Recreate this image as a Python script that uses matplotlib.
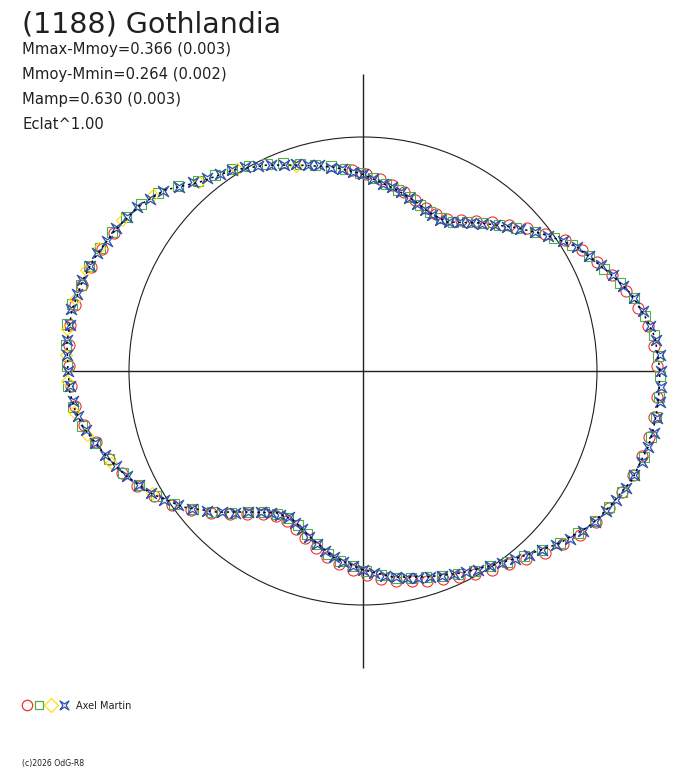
import numpy as np
import matplotlib.pyplot as plt
from matplotlib.patches import Circle

plt.rcParams['font.family'] = ['DejaVu Sans']

# fitted light curve, phase in degrees, radius = relative flux (mean = 1)
curve_ang = [0, 2.7, 6.6, 10.2, 13.5, 16.3, 18.9, 21.6, 24.8, 28, 30.1, 33.6, 37.9, 43.8, 51.7,
             60.6, 67, 73.7, 79.4, 84.9, 90.9, 98.4, 107, 115, 122.9, 130.8, 137.6, 143.3, 150.4,
             157.6, 162, 168.2, 174.6, 179.8, 184.3, 187.7, 191.3, 194.3, 198.6, 203.6, 209.8,
             217.1, 224, 231.3, 238.8, 244.8, 252.3, 260.8, 270, 278.3, 287.3, 295.6, 303.8,
             311.7, 318.9, 321.3, 324.1, 326.5, 329.4, 332.2, 335.4, 337.9, 341.6, 345.1, 348.5,
             352.4, 355.7, 360]
curve_r = [1.269, 1.262, 1.256, 1.233, 1.209, 1.189, 1.161, 1.135, 1.101, 1.074, 1.057, 1.011,
           0.959, 0.888, 0.806, 0.731, 0.733, 0.762, 0.787, 0.811, 0.846, 0.881, 0.920, 0.971,
           1.023, 1.067, 1.147, 1.188, 1.219, 1.247, 1.258, 1.271, 1.271, 1.261, 1.256, 1.242,
           1.220, 1.191, 1.154, 1.110, 1.049, 0.964, 0.868, 0.772, 0.709, 0.703, 0.745, 0.805,
           0.850, 0.890, 0.922, 0.958, 0.998, 1.053, 1.118, 1.134, 1.160, 1.178, 1.192, 1.208,
           1.222, 1.240, 1.247, 1.261, 1.265, 1.268, 1.268, 1.269]

red_ang = [1, 5, 9, 13, 17, 21, 25, 29, 33, 37, 41, 45, 49, 53, 57, 61, 65, 69, 73, 77, 81, 85,
           89, 93, 151, 155, 159, 163, 167, 171, 175, 179, 183, 187, 191, 195, 199, 203, 207, 211,
           215, 219, 223, 227, 231, 235, 239, 243, 247, 251, 255, 259, 263, 267, 271, 275, 279,
           283, 287, 291, 295, 299, 303, 307, 311, 315, 319, 323, 327, 331, 335, 339, 343, 347,
           351, 355]
red_r = [1.255, 1.250, 1.232, 1.206, 1.175, 1.140, 1.105, 1.070, 1.028, 0.975, 0.930, 0.884,
         0.842, 0.803, 0.770, 0.742, 0.740, 0.748, 0.766, 0.785, 0.803, 0.822, 0.843, 0.862,
         1.215, 1.232, 1.245, 1.255, 1.262, 1.266, 1.262, 1.255, 1.250, 1.238, 1.214, 1.180,
         1.150, 1.118, 1.082, 1.040, 0.995, 0.945, 0.890, 0.835, 0.785, 0.745, 0.725, 0.718,
         0.735, 0.755, 0.782, 0.810, 0.832, 0.852, 0.872, 0.892, 0.907, 0.922, 0.937, 0.952,
         0.972, 0.990, 1.012, 1.035, 1.063, 1.098, 1.130, 1.162, 1.185, 1.204, 1.220, 1.235,
         1.248, 1.256, 1.258, 1.260]

green_ang = [3, 7, 11, 15, 19, 23, 27, 31, 35, 39, 43, 47, 51, 55, 59, 63, 67, 71, 75, 79, 83,
             87, 91, 95, 99, 103, 107, 111, 115, 119, 123, 127, 131, 135, 139, 143, 147, 151,
             155, 159, 163, 167, 171, 175, 179, 183, 187, 191, 195, 199, 203, 207, 211, 215,
             219, 223, 227, 231, 235, 239, 243, 247, 251, 255, 259, 263, 267, 271, 275, 279,
             283, 287, 291, 295, 299, 303, 307, 311, 315, 319, 323, 327, 331, 335, 339, 343,
             347, 351, 355, 359]
green_r = [1.264, 1.252, 1.228, 1.200, 1.160, 1.120, 1.083, 1.042, 0.994, 0.946, 0.896, 0.855,
           0.812, 0.776, 0.745, 0.733, 0.737, 0.750, 0.768, 0.786, 0.803, 0.825, 0.848, 0.868,
           0.886, 0.905, 0.925, 0.950, 0.975, 1.003, 1.028, 1.050, 1.078, 1.118, 1.158, 1.186,
           1.210, 1.228, 1.240, 1.255, 1.262, 1.275, 1.280, 1.272, 1.265, 1.262, 1.248, 1.222,
           1.186, 1.150, 1.112, 1.075, 1.034, 0.988, 0.937, 0.882, 0.828, 0.778, 0.737, 0.712,
           0.705, 0.716, 0.738, 0.765, 0.795, 0.818, 0.836, 0.855, 0.876, 0.894, 0.907, 0.922,
           0.940, 0.957, 0.976, 0.995, 1.021, 1.050, 1.083, 1.118, 1.152, 1.180, 1.203, 1.222,
           1.240, 1.254, 1.263, 1.267, 1.268, 1.268]

yellow_ang = [108, 122, 131, 140, 148, 155, 160, 166, 172, 177, 182, 188, 193, 200, 210]
yellow_r = [0.922, 1.016, 1.070, 1.170, 1.215, 1.245, 1.258, 1.270, 1.278, 1.272, 1.266, 1.248,
            1.210, 1.145, 1.040]

blue_ang = list(range(0, 360, 3))
blue_r = [1.275, 1.270, 1.258, 1.240, 1.225, 1.200, 1.170, 1.143, 1.112, 1.085, 1.058, 1.018,
          0.978, 0.945, 0.905, 0.872, 0.842, 0.810, 0.782, 0.758, 0.735, 0.725, 0.728, 0.738,
          0.750, 0.765, 0.782, 0.796, 0.805, 0.822, 0.840, 0.853, 0.867, 0.880, 0.898, 0.912,
          0.928, 0.944, 0.965, 0.985, 1.005, 1.025, 1.040, 1.062, 1.085, 1.115, 1.150, 1.170,
          1.192, 1.205, 1.218, 1.228, 1.245, 1.250, 1.262, 1.265, 1.275, 1.268, 1.272, 1.266,
          1.262, 1.255, 1.245, 1.232, 1.212, 1.185, 1.158, 1.130, 1.105, 1.075, 1.045, 1.012,
          0.975, 0.938, 0.895, 0.853, 0.815, 0.778, 0.745, 0.722, 0.710, 0.700, 0.710, 0.725,
          0.745, 0.765, 0.788, 0.805, 0.822, 0.835, 0.852, 0.865, 0.882, 0.893, 0.905, 0.914,
          0.925, 0.937, 0.951, 0.965, 0.980, 0.995, 1.014, 1.035, 1.058, 1.082, 1.112, 1.138,
          1.162, 1.183, 1.198, 1.215, 1.228, 1.242, 1.252, 1.262, 1.270, 1.274, 1.275, 1.276]

title = '(1188) Gothlandia'
info = ['Mmax-Mmoy=0.366 (0.003)', 'Mmoy-Mmin=0.264 (0.002)', 'Mamp=0.630 (0.003)', 'Eclat^1.00']
observer = 'Axel Martin'
credit = '(c)2026 OdG-R8'


def xy(ang, r):
    a = np.radians(np.asarray(ang, dtype=float))
    r = np.asarray(r, dtype=float)
    return r * np.cos(a), r * np.sin(a)


# blue symbol: square with deeply pinched sides
star = [(-1, -1), (0, -0.35), (1, -1), (0.35, 0), (1, 1), (0, 0.35), (-1, 1), (-0.35, 0), (-1, -1)]

RED, GREEN, YELLOW, BLUE = '#f03030', '#50b040', '#ffe000', '#3050b0'

W, H = 688, 768
cx, cy, scale = 363, 371, 234  # centre and unit radius in pixels
fig = plt.figure(figsize=(W / 100, H / 100), dpi=100)
ax = fig.add_axes([0, 0, 1, 1])
ax.set_xlim(-cx / scale, (W - cx) / scale)
ax.set_ylim(-(H - cy) / scale, cy / scale)
ax.axis('off')

ax.add_patch(Circle((0, 0), 1.0, fill=False, ec='#202020', lw=0.8, zorder=1))
ax.hlines(0, -1.25, 1.25, color='#202020', lw=1.0, zorder=1)
ax.vlines(0, -1.27, 1.27, color='#202020', lw=1.0, zorder=1)

x, y = xy(red_ang, red_r)
ax.plot(x, y, 'o', ms=8, mfc='none', mec=RED, mew=0.8, zorder=2)
x, y = xy(green_ang, green_r)
ax.plot(x, y, 's', ms=6.5, mfc='none', mec=GREEN, mew=0.8, zorder=3)
x, y = xy(yellow_ang, yellow_r)
ax.plot(x, y, 'D', ms=6, mfc='none', mec=YELLOW, mew=0.8, zorder=4)
x, y = xy(blue_ang, blue_r)
ax.plot(x, y, marker=star, ls='none', ms=7.5, mfc='none', mec=BLUE, mew=0.9, zorder=5)
x, y = xy(curve_ang, curve_r)
ax.plot(x, y, color='black', lw=1.1, ls=(0, (1.5, 2.5)), zorder=6)

fig.text(22 / W, 1 - 32 / H, title, fontsize=20.5, color='#202020', va='baseline')
for i, s in enumerate(info):
    fig.text(22 / W, 1 - (54 + 25 * i) / H, s, fontsize=10.6, color='#202020', va='baseline')

# legend row
lx = [27, 39, 51, 64]
ly = 705
inv = ax.transData.inverted()
ax.plot(*inv.transform((lx[0], H - ly)), 'o', ms=7.5, mfc='none', mec=RED, mew=0.9, clip_on=False)
ax.plot(*inv.transform((lx[1], H - ly)), 's', ms=6, mfc='none', mec=GREEN, mew=0.9, clip_on=False)
ax.plot(*inv.transform((lx[2], H - ly)), 'D', ms=7, mfc='none', mec=YELLOW, mew=0.9, clip_on=False)
ax.plot(*inv.transform((lx[3], H - ly)), marker=star, ls='none', ms=6.5,
        mfc='none', mec=BLUE, mew=0.9, clip_on=False)
fig.text(76 / W, 1 - 709 / H, observer, fontsize=7, color='#202020', va='baseline')
fig.text(22 / W, 1 - 766 / H, credit, fontsize=5.6, color='#202020', va='baseline')

fig.savefig('out.png', dpi=100)
